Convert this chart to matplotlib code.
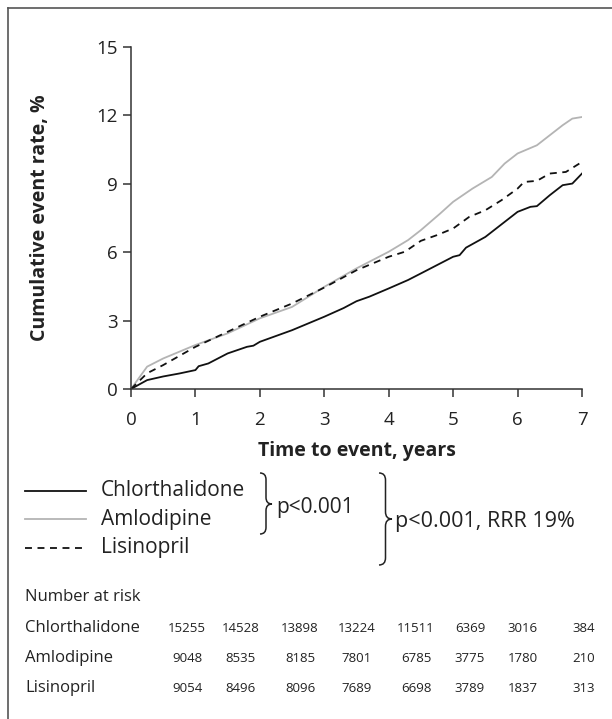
import matplotlib
matplotlib.use("Agg")
import matplotlib.pyplot as plt
from matplotlib.path import Path
from matplotlib.patches import PathPatch
from matplotlib.lines import Line2D

plt.rcParams['font.family'] = ['Open Sans', 'DejaVu Sans']
plt.rcParams['lines.scale_dashes'] = False

# ---- data ----
chl_t = [0, 0.25, 0.5, 0.75, 1.0, 1.05, 1.2, 1.5, 1.8, 1.9, 2.0, 2.5, 3.0, 3.3, 3.5, 3.7, 4.0, 4.3, 4.5, 5.0, 5.1, 5.2, 5.5, 5.7, 6.0, 6.2, 6.3, 6.5, 6.7, 6.85, 7.0]
chl_y = [0, 0.39, 0.55, 0.68, 0.83, 1.0, 1.12, 1.56, 1.85, 1.9, 2.07, 2.58, 3.17, 3.55, 3.85, 4.05, 4.41, 4.78, 5.07, 5.8, 5.87, 6.2, 6.67, 7.11, 7.77, 7.99, 8.02, 8.5, 8.94, 9.01, 9.45]

aml_t = [0, 0.25, 0.5, 1.0, 1.5, 2.0, 2.5, 3.0, 3.5, 4.0, 4.3, 4.5, 4.8, 5.0, 5.3, 5.6, 5.8, 6.0, 6.3, 6.5, 6.7, 6.85, 7.0]
aml_y = [0, 0.98, 1.34, 1.93, 2.44, 3.1, 3.6, 4.48, 5.29, 6.02, 6.53, 6.97, 7.7, 8.21, 8.79, 9.3, 9.89, 10.33, 10.69, 11.13, 11.57, 11.86, 11.93]

lis_t = [0, 0.25, 0.5, 1.0, 1.5, 2.0, 2.5, 3.0, 3.5, 4.0, 4.25, 4.5, 4.75, 5.0, 5.25, 5.5, 5.75, 6.0, 6.1, 6.3, 6.5, 6.75, 7.0]
lis_y = [0, 0.69, 1.05, 1.85, 2.51, 3.17, 3.75, 4.45, 5.21, 5.8, 6.02, 6.5, 6.75, 7.04, 7.55, 7.84, 8.28, 8.79, 9.08, 9.13, 9.45, 9.52, 9.96]

groups = ["Chlorthalidone", "Amlodipine", "Lisinopril"]
risk_chl = [15255, 14528, 13898, 13224, 11511, 6369, 3016, 384]
risk_aml = [9048, 8535, 8185, 7801, 6785, 3775, 1780, 210]
risk_lis = [9054, 8496, 8096, 7689, 6698, 3789, 1837, 313]
x_ticks = [0, 1, 2, 3, 4, 5, 6, 7]
y_ticks = [0, 3, 6, 9, 12, 15]

W, H = 612, 719
fig = plt.figure(figsize=(W / 100, H / 100), dpi=100)

def fx(px):
    return px / W

def fy(py):
    return 1 - py / H

ax = fig.add_axes([fx(131), fy(389), fx(582) - fx(131), fy(47) - fy(389)])
ax.plot(aml_t, aml_y, color='#b4b4b4', lw=1.3, solid_joinstyle='round')
ax.plot(lis_t, lis_y, color='#111111', lw=1.3, linestyle=(0, (5, 4)))
ax.plot(chl_t, chl_y, color='#111111', lw=1.3)

ax.set_xlim(0, 7)
ax.set_ylim(0, 15)
ax.set_xticks(x_ticks)
ax.set_yticks(y_ticks)
for s in ['top', 'right']:
    ax.spines[s].set_visible(False)
for s in ['left', 'bottom']:
    ax.spines[s].set_color('#333333')
    ax.spines[s].set_linewidth(1.1)
ax.tick_params(axis='both', direction='out', length=5.5, width=1.1, color='#333333',
               labelsize=13.5, labelcolor='#222222')
ax.tick_params(axis='x', pad=10)
ax.tick_params(axis='y', pad=4)
ax.set_xlabel("Time to event, years", fontsize=14, fontweight='bold', color='#222222', labelpad=9)
ax.set_ylabel("Cumulative event rate, %", fontsize=14, fontweight='bold', color='#222222', labelpad=33)

# frame (cut at right and bottom)
fig.add_artist(Line2D([fx(8), fx(8)], [fy(8), fy(730)], color='#555555', lw=1.2, transform=fig.transFigure))
fig.add_artist(Line2D([fx(8), fx(620)], [fy(8), fy(8)], color='#555555', lw=1.2, transform=fig.transFigure))

# legend
leg_y = [491, 519, 548]
styles = [dict(color='#111111', ls='-'), dict(color='#b4b4b4', ls='-'), dict(color='#111111', ls=(0, (5, 4)))]
for name, y, st in zip(groups, leg_y, styles):
    fig.add_artist(Line2D([fx(25), fx(86)], [fy(y), fy(y)], lw=1.3, transform=fig.transFigure, **st))
    fig.text(fx(101), fy(y), name, fontsize=15, va='center', ha='left', color='#222222')

def brace(x0, ytop, ybot, ytip, w):
    xm = x0 + w * 0.5
    r = w * 0.55
    pts = [(x0, ytop), (xm, ytop), (xm, ytop + r),
           (xm, ytip - r), (xm, ytip), (x0 + w, ytip),
           (xm, ytip), (xm, ytip + r),
           (xm, ybot - r), (xm, ybot), (x0, ybot)]
    codes = [Path.MOVETO, Path.CURVE3, Path.CURVE3,
             Path.LINETO, Path.CURVE3, Path.CURVE3,
             Path.CURVE3, Path.CURVE3,
             Path.LINETO, Path.CURVE3, Path.CURVE3]
    verts = [(fx(a), fy(b)) for a, b in pts]
    fig.add_artist(PathPatch(Path(verts, codes), fill=False, lw=1.1, edgecolor='#222222',
                             transform=fig.transFigure))

brace(260, 473, 534, 504, 12)
brace(379, 473, 565, 519, 13)
fig.text(fx(276), fy(508), "p<0.001", fontsize=15, va='center', ha='left', color='#222222')
fig.text(fx(395), fy(522), "p<0.001, RRR 19%", fontsize=15.5, va='center', ha='left', color='#222222')

# number at risk
fig.text(fx(25), fy(597), "Number at risk", fontsize=12, va='center', ha='left', color='#222222')
col_x = [187, 241, 300, 357, 416, 470, 523, 584]
row_y = [628, 658, 688]
for name, y, vals in zip(groups, row_y, [risk_chl, risk_aml, risk_lis]):
    fig.text(fx(25), fy(y), name, fontsize=12, va='center', ha='left', color='#222222')
    for cx, v in zip(col_x, vals):
        fig.text(fx(cx), fy(y), str(v), fontsize=9.5, va='center', ha='center', color='#222222')

fig.savefig("out.png", dpi=100, facecolor='white')
